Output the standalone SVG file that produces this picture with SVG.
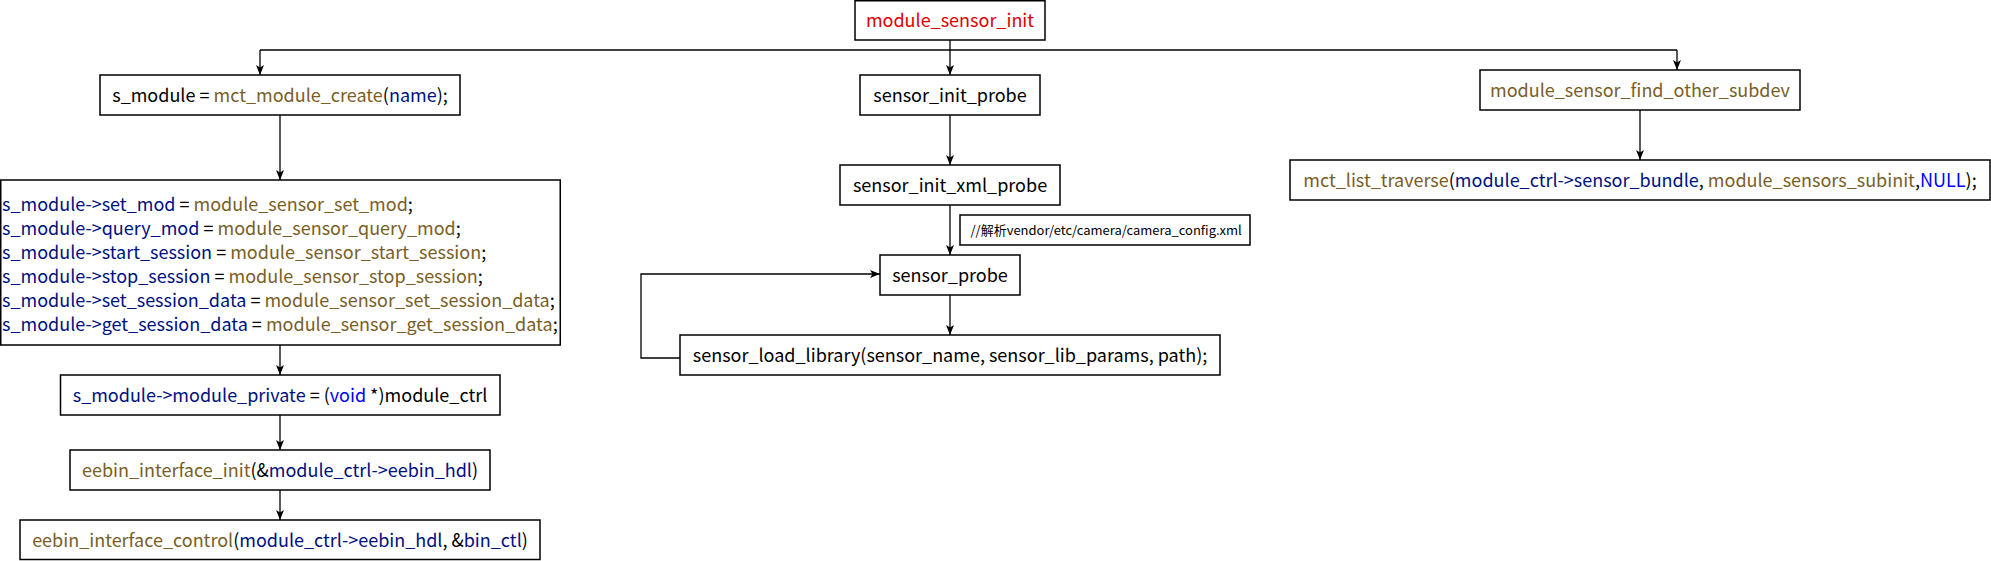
<svg xmlns="http://www.w3.org/2000/svg" width="1991" height="561" viewBox="0 0 1991 561">
<style>
.box{fill:#fff;stroke:#000;stroke-width:1.5}
.t{font-family:"Noto Sans CJK SC","Noto Sans",sans-serif;font-size:18px;fill:#000}
.m{text-anchor:middle}
.small{font-size:13px}
.v{fill:#001080}
.f{fill:#795e26}
.k{fill:#0000ff}
.r{fill:#e00000}
.c{fill:none;stroke:#000;stroke-width:1.3}
</style>
<defs>
<marker id="ah" markerUnits="userSpaceOnUse" markerWidth="10" markerHeight="10" viewBox="0 0 10 10" refX="10" refY="5" orient="auto">
<path d="M0,1 L10,5 L0,9 L2.5,5 z" fill="#000"/>
</marker>
</defs>
<rect width="1991" height="561" fill="#fff"/>
<g id="connectors">
<path class="c" d="M950,40 V75" marker-end="url(#ah)"/>
<path class="c" d="M260,50 H1677"/>
<path class="c" d="M260,50 V75" marker-end="url(#ah)"/>
<path class="c" d="M1677,50 V70" marker-end="url(#ah)"/>
<path class="c" d="M280,115 V180" marker-end="url(#ah)"/>
<path class="c" d="M280,345 V375" marker-end="url(#ah)"/>
<path class="c" d="M280,415 V450" marker-end="url(#ah)"/>
<path class="c" d="M280,490 V520" marker-end="url(#ah)"/>
<path class="c" d="M950,115 V165" marker-end="url(#ah)"/>
<path class="c" d="M950,205 V255" marker-end="url(#ah)"/>
<path class="c" d="M950,295 V335" marker-end="url(#ah)"/>
<path class="c" d="M1640,110 V160" marker-end="url(#ah)"/>
<path class="c" d="M680,358 H641 V274 H880" marker-end="url(#ah)"/>
</g>
<g id="module_sensor_init">
<rect class="box" x="855" y="0.75" width="190" height="39.25"/>
<text class="t m r" x="950" y="27">module_sensor_init</text>
</g>
<g id="s_module_create">
<rect class="box" x="100" y="75" width="360" height="40"/>
<text class="t m" x="280" y="102">s_module = <tspan class="f">mct_module_create</tspan>(<tspan class="v">name</tspan>);</text>
</g>
<g id="s_module_ops">
<rect class="box" x="0.75" y="180" width="559.5" height="165"/>
<text class="t" x="2" y="211"><tspan class="v">s_module-&gt;set_mod</tspan> = <tspan class="f">module_sensor_set_mod</tspan>;</text>
<text class="t" x="2" y="235"><tspan class="v">s_module-&gt;query_mod</tspan> = <tspan class="f">module_sensor_query_mod</tspan>;</text>
<text class="t" x="2" y="259"><tspan class="v">s_module-&gt;start_session</tspan> = <tspan class="f">module_sensor_start_session</tspan>;</text>
<text class="t" x="2" y="283"><tspan class="v">s_module-&gt;stop_session</tspan> = <tspan class="f">module_sensor_stop_session</tspan>;</text>
<text class="t" x="2" y="307"><tspan class="v">s_module-&gt;set_session_data</tspan> = <tspan class="f">module_sensor_set_session_data</tspan>;</text>
<text class="t" x="2" y="331"><tspan class="v">s_module-&gt;get_session_data</tspan> = <tspan class="f">module_sensor_get_session_data</tspan>;</text>
</g>
<g id="module_private">
<rect class="box" x="60.5" y="375" width="439.5" height="40"/>
<text class="t m" x="280" y="402"><tspan class="v">s_module-&gt;module_private</tspan> = (<tspan class="k">void</tspan> *)module_ctrl</text>
</g>
<g id="eebin_interface_init">
<rect class="box" x="70" y="450" width="420" height="40"/>
<text class="t m" x="280" y="477"><tspan class="f">eebin_interface_init</tspan>(&amp;<tspan class="v">module_ctrl-&gt;eebin_hdl</tspan>)</text>
</g>
<g id="eebin_interface_control">
<rect class="box" x="20" y="520" width="520" height="39.5"/>
<text class="t m" x="280" y="547"><tspan class="f">eebin_interface_control</tspan>(<tspan class="v">module_ctrl-&gt;eebin_hdl</tspan>, &amp;<tspan class="v">bin_ctl</tspan>)</text>
</g>
<g id="sensor_init_probe">
<rect class="box" x="860" y="75" width="180" height="40"/>
<text class="t m" x="950" y="102">sensor_init_probe</text>
</g>
<g id="sensor_init_xml_probe">
<rect class="box" x="840" y="165" width="220" height="40"/>
<text class="t m" x="950" y="192">sensor_init_xml_probe</text>
</g>
<g id="xml_note">
<rect class="box" x="960" y="215" width="290" height="30"/>
<text class="t small" x="970.5" y="235">//解析vendor/etc/camera/camera_config.xml</text>
</g>
<g id="sensor_probe">
<rect class="box" x="880" y="255" width="140" height="40"/>
<text class="t m" x="950" y="282">sensor_probe</text>
</g>
<g id="sensor_load_library">
<rect class="box" x="680" y="335" width="540" height="40"/>
<text class="t m" x="950" y="362">sensor_load_library(sensor_name, sensor_lib_params, path);</text>
</g>
<g id="module_sensor_find_other_subdev">
<rect class="box" x="1480" y="70" width="320" height="40"/>
<text class="t m f" x="1640" y="97">module_sensor_find_other_subdev</text>
</g>
<g id="mct_list_traverse">
<rect class="box" x="1290" y="160" width="700" height="40"/>
<text class="t m" x="1640" y="187"><tspan class="f">mct_list_traverse</tspan>(<tspan class="v">module_ctrl-&gt;sensor_bundle</tspan>, <tspan class="f">module_sensors_subinit</tspan>,<tspan class="k">NULL</tspan>);</text>
</g>
</svg>
